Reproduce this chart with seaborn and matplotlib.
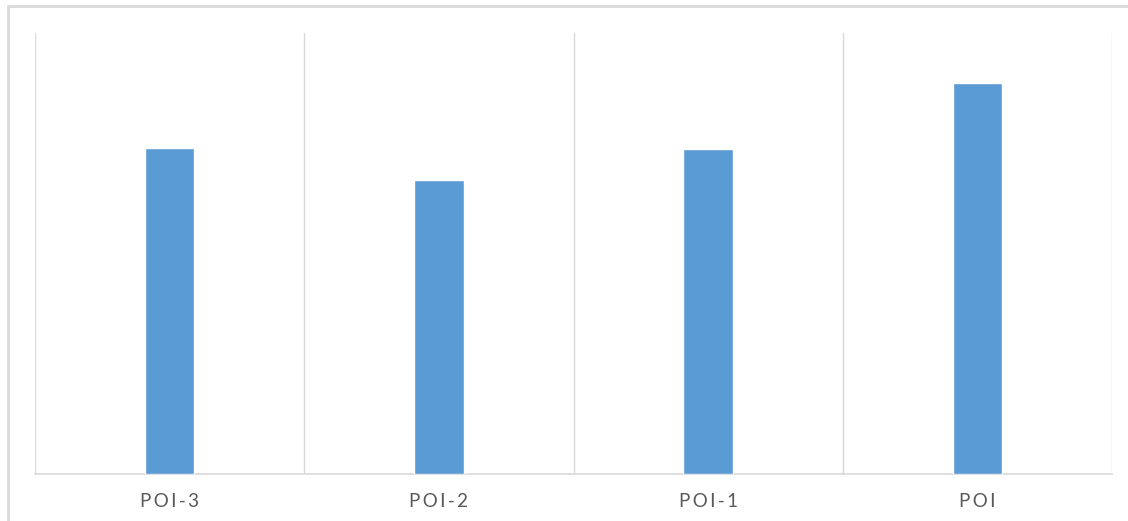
import matplotlib
matplotlib.use("Agg")
import matplotlib.pyplot as plt
from matplotlib.patches import Rectangle
import seaborn as sns
import pandas as pd

# Chart data
categories = ["POI-3", "POI-2", "POI-1", "POI"]
values = [326, 294, 325, 391]
y_max = 441

BAR_COLOR = "#5b9bd5"
GRID_COLOR = "#d9d9d9"
TEXT_COLOR = "#595959"

sns.set_theme(style="white")
plt.rcParams["font.family"] = ["Lato", "DejaVu Sans"]

W, H = 1128, 521
fig = plt.figure(figsize=(W / 100, H / 100), dpi=100)
fig.patch.set_facecolor("white")

# plot area in pixel coordinates
left, right, top, bottom = 35, 1112, 33, 474
ax = fig.add_axes([left / W, (H - bottom) / H, (right - left) / W, (bottom - top) / H])

df = pd.DataFrame({"category": categories, "value": values})
sns.barplot(data=df, x="category", y="value", color=BAR_COLOR, width=0.184,
            saturation=1, ax=ax, zorder=3)

ax.set_xlim(-0.5, len(categories) - 0.5)
ax.set_ylim(0, y_max)
ax.set_xlabel("")
ax.set_ylabel("")
ax.set_yticks([])

# category separators as vertical gridlines
ax.set_xticks([i - 0.5 for i in range(len(categories) + 1)], minor=True)
ax.grid(which="minor", axis="x", color=GRID_COLOR, linewidth=1.0, zorder=0)
ax.grid(which="major", visible=False)
ax.tick_params(which="both", length=0)

# spaced-out category labels
spaced = ["\u2009".join(c) for c in categories]
ax.set_xticks(range(len(categories)))
ax.set_xticklabels(spaced, color=TEXT_COLOR, fontsize=13.5, fontweight="normal")
ax.tick_params(axis="x", pad=13.5)

for side in ["top", "right", "left"]:
    ax.spines[side].set_visible(False)
ax.spines["bottom"].set_color(GRID_COLOR)
ax.spines["bottom"].set_linewidth(1.2)

# outer frame of the chart
fig.patches.append(Rectangle((8 / W, -0.1), 1.2, 1 - 6 / H + 0.1,
                             transform=fig.transFigure, fill=False,
                             edgecolor=GRID_COLOR, linewidth=2.0))

fig.savefig("out.png", dpi=100, facecolor="white")
